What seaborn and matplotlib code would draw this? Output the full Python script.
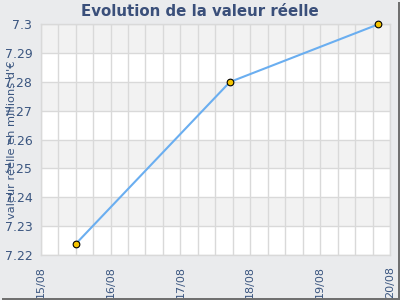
import matplotlib
matplotlib.use("Agg")
import matplotlib.pyplot as plt
import matplotlib.dates as mdates
from matplotlib.patches import Rectangle
from matplotlib.ticker import FuncFormatter
import seaborn as sns
import pandas as pd

dates = ["2024-08-15 12:00", "2024-08-17 17:00", "2024-08-19 20:00"]
values = [7.2238, 7.28, 7.30]
x_ticks = ["2024-08-15", "2024-08-16", "2024-08-17", "2024-08-18", "2024-08-19", "2024-08-20"]
y_ticks = [7.22, 7.23, 7.24, 7.25, 7.26, 7.27, 7.28, 7.29, 7.30]

df = pd.DataFrame({"date": pd.to_datetime(dates), "value": values})

sns.set_style("white")
plt.rcParams['font.family'] = ['DejaVu Sans']

bg = "#eaebed"
txt = "#3b5680"

fig = plt.figure(figsize=(4, 3), dpi=100, facecolor=bg)
ax = fig.add_axes([40.7/400, 45/300, (390-40.7)/400, (255-24.3)/300])
ax.set_facecolor("white")

# alternating bands
for i in range(len(y_ticks) - 1):
    if (len(y_ticks) - 2 - i) % 2 == 0:
        ax.axhspan(y_ticks[i], y_ticks[i+1], color="#f2f2f2", zorder=0, lw=0)

xt = pd.to_datetime(x_ticks)
ax.set_xlim(xt[0], xt[-1])
ax.set_ylim(y_ticks[0], y_ticks[-1])

ax.xaxis.set_major_locator(mdates.DayLocator())
ax.xaxis.set_major_formatter(mdates.DateFormatter("%d/%m"))
ax.xaxis.set_minor_locator(mdates.HourLocator(byhour=[0, 6, 12, 18]))
ax.set_yticks(y_ticks)
ax.yaxis.set_major_formatter(FuncFormatter(lambda v, p: f"{v:g}"))

ax.grid(True, which="both", axis="x", color="#d9d9d9", lw=1, zorder=1)
ax.grid(True, which="major", axis="y", color="#d9d9d9", lw=1, zorder=1)
ax.set_axisbelow(True)

sns.lineplot(data=df, x="date", y="value", ax=ax, color="#6aaef0", lw=1.5,
             marker="o", markersize=4.8, markerfacecolor="#f5c400",
             markeredgecolor="black", markeredgewidth=0.8, zorder=3, clip_on=False)

for s in ax.spines.values():
    s.set_color("#d9d9d9")
    s.set_linewidth(1)

ax.tick_params(axis="x", which="both", length=0, pad=8, labelsize=8, labelcolor=txt, labelrotation=90)
ax.tick_params(axis="y", length=0, pad=6, labelsize=9, labelcolor=txt)
for lab in ax.get_xticklabels():
    lab.set_horizontalalignment("center")

ax.set_xlabel("")
ax.set_ylabel("")
fig.text(12/400, 1 - 140/300, "valeur réelle en millions d'€", rotation=90,
         ha="center", va="center", fontsize=8.2, color=txt)
fig.text(0.5, 1 - 12/300, "Evolution de la valeur réelle", ha="center", va="center",
         fontsize=10.8, fontweight="bold", color="#3a4f7a")

# shadow border
fig.patches.append(Rectangle((2/400, 0), 398/400, 2/300, transform=fig.transFigure,
                             color="#707070", lw=0))
fig.patches.append(Rectangle((398/400, 0), 2/400, 298/300, transform=fig.transFigure,
                             color="#707070", lw=0))

fig.savefig("out.png", dpi=100, facecolor=bg)
